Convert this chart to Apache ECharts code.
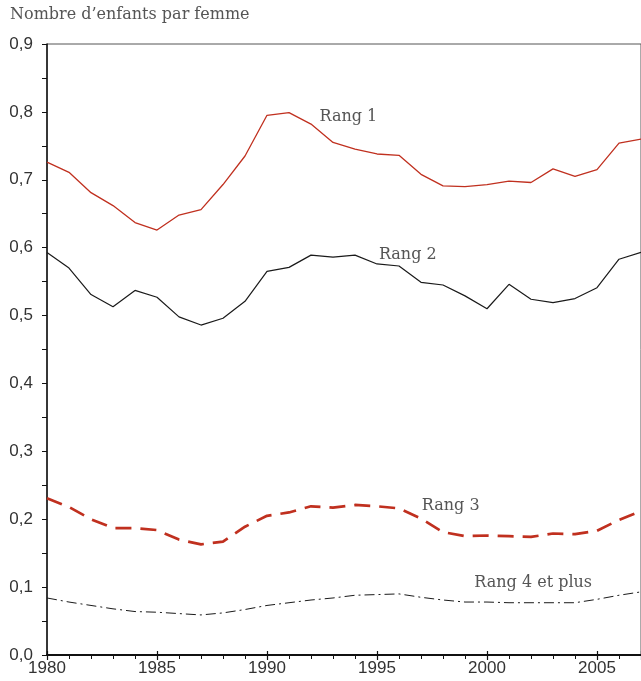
<!DOCTYPE html>
<html>
<head>
<meta charset="utf-8">
<script src="https://cdn.jsdelivr.net/npm/echarts@6/dist/echarts.min.js"></script>
<style>html,body{margin:0;padding:0;background:#fff;}#c{width:641px;height:681px;}</style>
</head>
<body>
<div id="c"></div>
<script>
const years = [1980,1981,1982,1983,1984,1985,1986,1987,1988,1989,1990,1991,1992,1993,1994,1995,1996,1997,1998,1999,2000,2001,2002,2003,2004,2005,2006,2007];
const rang1 = [0.726,0.711,0.681,0.662,0.637,0.626,0.648,0.656,0.693,0.735,0.795,0.799,0.782,0.755,0.745,0.738,0.736,0.708,0.691,0.690,0.693,0.698,0.696,0.716,0.705,0.715,0.754,0.760];
const rang2 = [0.593,0.570,0.531,0.513,0.537,0.527,0.498,0.486,0.496,0.521,0.565,0.571,0.589,0.586,0.589,0.576,0.573,0.549,0.545,0.529,0.510,0.546,0.524,0.519,0.525,0.541,0.583,0.593];
const rang3 = [0.231,0.218,0.200,0.187,0.187,0.184,0.170,0.163,0.167,0.189,0.205,0.210,0.219,0.217,0.221,0.219,0.216,0.201,0.181,0.175,0.176,0.175,0.174,0.179,0.178,0.183,0.199,0.212];
const rang4 = [0.084,0.078,0.073,0.068,0.064,0.063,0.061,0.059,0.062,0.067,0.073,0.077,0.081,0.084,0.088,0.089,0.090,0.085,0.081,0.078,0.078,0.077,0.077,0.077,0.077,0.082,0.088,0.093];
const seriesNames = ['Rang 1','Rang 2','Rang 3','Rang 4 et plus'];
const labelPos = [[1993.7,0.792],[1996.4,0.590],[1998.35,0.219],[2002.1,0.106]];
const yTitle = "Nombre d\u2019enfants par femme";

const chart = echarts.init(document.getElementById('c'), null, {renderer:'canvas'});
const pair = arr => years.map((y,i)=>[y,arr[i]]);
const labelFont = {fontFamily:"'DejaVu Serif', serif", fontSize:16, color:'#555'};
function mk(i){
  return {
    symbol:'circle', symbolSize:1, silent:true,
    itemStyle:{color:'rgba(0,0,0,0)'},
    label:Object.assign({show:true, position:'inside', formatter:seriesNames[i]}, labelFont),
    data:[{coord:labelPos[i]}]
  };
}
const tickFont = {fontFamily:"'Liberation Sans Narrow','Liberation Sans',sans-serif", fontSize:17, color:'#333'};
chart.setOption({
  animation:false,
  backgroundColor:'#fff',
  title:{text:yTitle, left:10, top:7, padding:0, textStyle:{fontFamily:"'DejaVu Serif', serif", fontSize:16, fontWeight:'normal', color:'#555'}},
  grid:{left:47, right:-3, top:44, bottom:26, show:true, borderColor:'#555', borderWidth:1, backgroundColor:'transparent'},
  xAxis:[{
    type:'value', min:1980, max:2007, interval:5,
    axisLine:{show:true, lineStyle:{color:'#111', width:2}},
    axisTick:{show:true, length:5, inside:false, lineStyle:{color:'#111', width:1.2}},
    minorTick:{show:true, splitNumber:5, length:4, lineStyle:{color:'#111', width:1}},
    splitLine:{show:false},
    axisLabel:Object.assign({margin:5, showMaxLabel:false, formatter:v=>String(v)}, tickFont)
  },{
    type:'value', min:1980, max:2007, interval:5, position:'bottom',
    axisLine:{show:false},
    axisTick:{show:true, inside:true, length:4, lineStyle:{color:'#111', width:1.2}},
    axisLabel:{show:false}, splitLine:{show:false}
  }],
  yAxis:{
    type:'value', min:0, max:0.9, interval:0.1,
    axisLine:{show:true, lineStyle:{color:'#111', width:1.5}},
    axisTick:{show:true, length:5, lineStyle:{color:'#111', width:1}},
    minorTick:{show:true, splitNumber:2, length:5, lineStyle:{color:'#111', width:1}},
    splitLine:{show:false},
    axisLabel:Object.assign({margin:14, formatter:v=>v.toFixed(1).replace('.',',')}, tickFont)
  },
  series:[
    {name:seriesNames[0], type:'line', data:pair(rang1), showSymbol:false, lineStyle:{color:'#c0301f', width:1.3}, markPoint:mk(0)},
    {name:seriesNames[1], type:'line', data:pair(rang2), showSymbol:false, lineStyle:{color:'#1a1a1a', width:1.2}, markPoint:mk(1)},
    {name:seriesNames[2], type:'line', data:pair(rang3), showSymbol:false, lineStyle:{color:'#c0301f', width:2.7, type:[16,9]}, markPoint:mk(2)},
    {name:seriesNames[3], type:'line', data:pair(rang4), showSymbol:false, lineStyle:{color:'#1a1a1a', width:1, type:[10,4,2,4]}, markPoint:mk(3)}
  ]
});
</script>
</body>
</html>
